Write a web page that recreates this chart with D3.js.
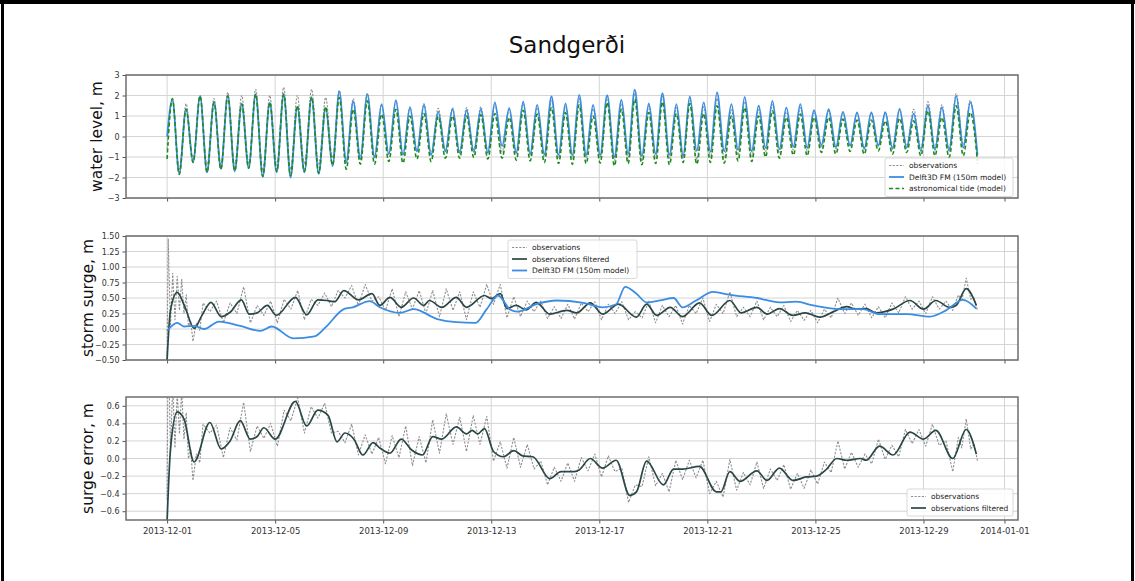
<!DOCTYPE html>
<html><head><meta charset="utf-8">
<script src="https://cdn.jsdelivr.net/npm/d3@7"></script>
<style>body{margin:0;background:#fff} svg{display:block;font-family:"DejaVu Sans",sans-serif}</style>
</head><body><svg id="c" width="1135" height="581"></svg>
<script>
// ---------- DATA (hours since 2013-12-01 00:00 UTC) ----------
const title = "Sandgerði";
const tickLabels = ["2013-12-01","2013-12-05","2013-12-09","2013-12-13","2013-12-17","2013-12-21","2013-12-25","2013-12-29","2014-01-01"];
const wlTicks = [-3,-2,-1,0,1,2,3];
const ssTicks = [-0.5,-0.25,0,0.25,0.5,0.75,1.0,1.25,1.5];
const seTicks = [-0.6,-0.4,-0.2,0,0.2,0.4,0.6];

// water level: high / low water turning points
const tideHours = [0,
 4.7,10.8,16.9,23.1,29.3,35.5,41.7,47.8,
 53.9,60.1,66.3,72.5,78.7,85.0,91.2,97.4,
 103.6,109.7,115.7,122.0,128.4,134.7,140.9,147.0,
 153.0,159.2,165.4,171.7,177.9,184.3,190.6,197.0,
 203.3,209.6,215.8,222.0,228.2,234.6,240.9,247.3,
 253.6,259.9,266.1,272.5,278.8,285.0,291.2,297.6,
 304.0,310.2,316.4,322.6,328.8,335.2,341.5,347.8,
 354.0,360.1,366.1,372.3,378.5,384.8,391.0,397.4,
 403.7,409.6,415.5,421.8,428.0,434.1,440.1,446.3,
 452.5,458.5,464.4,470.6,476.8,482.7,488.6,495.0,
 501.4,507.3,513.2,519.4,525.6,531.7,537.8,544.0,
 550.2,556.4,562.6,568.7,574.8,581.3,587.8,594.2,
 600.5,606.8,613.0,619.4,625.7,631.9,638.1,644.5,
 650.8,657.1,663.3,669.7,676.0,682.2,688.4,694.8,
 701.1,707.4,713.6,720];
const wlObs = [-0.6,
 1.8,-1.6,1.6,-1.1,2.0,-1.4,1.85,-1.35,
 2.15,-1.4,2.0,-1.3,2.3,-1.65,2.0,-1.4,
 2.4,-1.6,2.0,-1.35,2.3,-1.4,1.9,-1.05,
 2.25,-1.2,1.85,-0.95,2.1,-0.95,1.55,-0.85,
 1.75,-0.9,1.45,-0.7,1.6,-0.85,1.38,-0.65,
 1.4,-0.7,1.41,-0.65,1.45,-0.7,1.55,-0.75,
 1.3,-0.85,1.6,-0.9,1.4,-1.0,1.75,-1.05,
 1.45,-1.05,1.85,-1.05,1.35,-1.0,1.95,-1.15,
 1.6,-1.1,2.1,-1.2,1.5,-1.05,1.95,-1.1,
 1.4,-1.05,1.9,-1.1,1.45,-1.0,1.85,-1.05,
 1.3,-0.9,1.7,-0.95,1.3,-0.75,1.55,-0.8,
 1.2,-0.65,1.4,-0.7,1.2,-0.55,1.25,-0.6,
 1.15,-0.45,1.15,-0.55,1.15,-0.4,1.2,-0.5,
 1.35,-0.45,1.33,-0.55,1.7,-0.55,1.55,-0.6,
 2.1,-0.4,1.77,-1.35];
const wlModel = [0.0,
 1.8,-1.8,1.35,-1.25,1.97,-1.75,1.7,-1.58,
 1.98,-1.7,1.6,-1.55,2.05,-1.97,1.65,-1.75,
 2.05,-2.0,1.45,-1.75,1.9,-1.82,1.4,-1.45,
 2.2,-1.27,1.7,-1.1,2.07,-1.02,1.58,-0.86,
 1.77,-0.9,1.41,-0.73,1.54,-0.9,1.2,-0.73,
 1.33,-0.8,1.28,-0.75,1.33,-0.8,1.66,-0.46,
 1.38,-0.78,1.7,-0.85,1.54,-0.87,1.95,-0.9,
 1.61,-0.92,2.03,-0.9,1.54,-0.92,2.02,-1.0,
 1.79,-0.85,2.28,-0.95,1.61,-0.85,2.11,-0.9,
 1.58,-0.94,1.95,-0.7,1.66,-0.75,2.15,-0.72,
 1.58,-0.65,1.93,-0.72,1.5,-0.55,1.74,-0.62,
 1.41,-0.5,1.58,-0.55,1.28,-0.42,1.33,-0.52,
 1.2,-0.45,1.17,-0.6,1.17,-0.45,1.17,-0.6,
 1.33,-0.55,1.12,-0.7,1.5,-0.65,1.41,-0.7,
 1.98,-0.55,1.66,-0.9];
const wlAstro = [-1.1,
 1.85,-1.85,1.33,-1.27,1.98,-1.75,1.66,-1.6,
 1.98,-1.67,1.58,-1.55,2.07,-1.95,1.66,-1.7,
 2.07,-1.9,1.5,-1.7,1.93,-1.8,1.45,-1.4,
 1.9,-1.6,1.33,-1.35,1.74,-1.35,1.09,-1.22,
 1.33,-1.3,1.0,-1.1,1.12,-1.22,0.98,-1.06,
 1.0,-1.06,1.0,-1.02,1.06,-1.1,1.12,-1.06,
 0.93,-1.15,1.28,-1.19,1.09,-1.27,1.41,-1.32,
 1.17,-1.35,1.54,-1.32,1.0,-1.3,1.66,-1.43,
 1.33,-1.32,1.82,-1.38,1.17,-1.32,1.69,-1.38,
 1.12,-1.27,1.61,-1.35,1.12,-1.27,1.5,-1.3,
 1.0,-1.19,1.41,-1.22,1.0,-1.0,1.25,-1.06,
 0.93,-0.91,1.09,-0.94,0.93,-0.78,0.93,-0.86,
 0.85,-0.73,0.8,-0.86,0.8,-0.7,0.76,-0.86,
 0.89,-0.78,0.76,-0.94,1.25,-0.94,0.93,-1.02,
 1.5,-0.94,1.17,-1.19];

// storm surge & surge error: observed (raw) samples
const obsHours = [0,1,3,5,7,9,11,13,15,17,19,21,23,26,29,
 32,38,44,50,56,62,68,74,80,86,92,98,
 104,110,116,122,128,134,140,146,152,158,164,170,
 176,182,188,194,200,206,212,218,224,230,236,242,
 248,254,260,266,272,278,284,290,296,302,308,314,
 320,326,332,338,344,350,356,362,368,374,380,386,
 392,398,404,410,416,422,428,434,440,446,452,458,
 464,470,476,482,488,494,500,506,512,518,524,530,
 536,542,548,554,560,566,572,578,584,590,596,602,
 608,614,620,626,632,638,644,650,656,662,668,674,
 680,686,692,698,703,706,710,714,717,720];
const surgeObs = [-0.5,1.45,0.05,0.9,0.15,0.85,0.3,0.8,0.25,0.55,0.05,0.12,-0.2,0.1,-0.02,
 0.42,0.28,0.45,0.1,0.42,0.25,0.68,0.1,0.38,0.22,0.45,0.1,
 0.48,0.32,0.62,0.15,0.48,0.38,0.58,0.36,0.62,0.5,0.7,0.38,
 0.72,0.45,0.52,0.3,0.65,0.2,0.6,0.32,0.62,0.25,0.62,0.2,
 0.65,0.3,0.6,0.15,0.6,0.35,0.72,0.4,0.72,0.18,0.52,0.2,
 0.45,0.28,0.45,0.17,0.36,0.17,0.4,0.16,0.42,0.28,0.44,0.15,
 0.4,0.25,0.44,0.15,0.28,0.18,0.45,0.1,0.38,0.2,0.38,0.08,
 0.38,0.25,0.5,0.12,0.4,0.25,0.6,0.2,0.35,0.2,0.45,0.15,
 0.35,0.2,0.38,0.12,0.3,0.14,0.3,0.1,0.32,0.18,0.5,0.25,
 0.42,0.22,0.4,0.18,0.36,0.18,0.42,0.26,0.52,0.32,0.45,0.25,
 0.52,0.32,0.45,0.3,0.55,0.45,0.82,0.48,0.5,0.3];
const errorObs = [-0.47,1.48,0.05,0.85,0.12,0.75,0.28,0.78,0.22,0.52,0.0,0.1,-0.25,0.05,-0.05,
 0.39,0.29,0.38,0.01,0.35,0.21,0.64,0.08,0.37,0.23,0.4,0.14,
 0.55,0.43,0.69,0.29,0.59,0.46,0.63,0.29,0.31,0.18,0.39,0.04,
 0.27,0.05,0.24,-0.06,0.26,0.01,0.37,-0.08,0.25,-0.05,0.44,0.06,
 0.51,0.16,0.47,0.08,0.49,0.16,0.48,-0.03,0.19,-0.11,0.24,-0.1,
 0.16,-0.12,-0.03,-0.3,-0.1,-0.26,-0.05,-0.26,0.01,-0.14,0.05,-0.21,
 0.03,-0.15,-0.11,-0.5,-0.3,-0.32,0.02,-0.31,-0.17,-0.38,-0.02,-0.24,
 -0.02,-0.22,-0.02,-0.4,-0.26,-0.44,-0.01,-0.36,-0.16,-0.3,-0.04,-0.34,
 -0.12,-0.25,-0.07,-0.35,-0.17,-0.34,-0.13,-0.29,-0.04,-0.16,0.2,-0.12,
 0.07,-0.1,0.05,-0.06,0.22,-0.01,0.15,0.02,0.33,0.17,0.33,0.14,
 0.39,0.15,0.2,-0.15,0.24,0.12,0.45,0.11,0.17,-0.03];

// filtered observed surge (turning points)
const surgeFiltHours = [0,3,9,16,24,31,39,48,56,66,73,80,89,97,114,124,134,142,149,157,170,182,189,198,208,219,228,233,244,257,266,282,288,296,302,310,319,328,340,355,364,376,387,401,417,426,435,447,458,473,484,500,510,524,533,544,556,567,580,592,604,612,621,630,645,660,672,683,695,701,710,719];
const surgeFilt = [-0.5,0.3,0.59,0.35,0.01,0.22,0.43,0.2,0.27,0.47,0.24,0.26,0.38,0.22,0.51,0.23,0.47,0.46,0.44,0.62,0.47,0.57,0.38,0.51,0.35,0.5,0.38,0.46,0.35,0.51,0.35,0.54,0.49,0.57,0.33,0.38,0.31,0.43,0.24,0.3,0.26,0.42,0.24,0.4,0.19,0.4,0.22,0.35,0.2,0.42,0.22,0.46,0.26,0.35,0.24,0.33,0.22,0.26,0.19,0.28,0.36,0.32,0.33,0.26,0.32,0.46,0.32,0.46,0.35,0.38,0.65,0.38];
// Delft3D FM modelled surge
const surgeModelHours = [0,9,15,24,33,46,65,83,93,112,131,141,157,165,180,189,207,219,240,257,274,284,294,305,311,328,346,370,387,399,407,417,426,438,450,458,470,485,500,524,544,559,574,598,618,633,657,678,692,707,719];
const surgeModel = [-0.03,0.1,0.04,0.05,0.0,0.12,0.05,-0.03,0.04,-0.15,-0.12,0.03,0.32,0.35,0.45,0.35,0.26,0.32,0.16,0.11,0.1,0.32,0.54,0.31,0.28,0.4,0.46,0.42,0.35,0.4,0.68,0.57,0.43,0.46,0.5,0.35,0.46,0.6,0.55,0.5,0.43,0.44,0.38,0.32,0.32,0.24,0.24,0.2,0.3,0.47,0.33];
// filtered surge error
const errorFiltHours = [0,3,9,15,24,38,48,56,65,74,80,86,96,114,124,134,143,151,158,166,174,183,189,198,208,217,227,236,244,257,266,271,276,282,290,299,308,316,325,340,350,361,366,376,387,399,411,417,426,441,450,458,473,488,492,500,509,524,533,544,556,568,577,586,595,604,616,621,633,645,660,672,683,698,710,719];
const errorFilt = [-0.72,0.1,0.53,0.45,-0.04,0.41,0.11,0.2,0.43,0.22,0.25,0.35,0.22,0.65,0.37,0.55,0.49,0.19,0.29,0.22,0.04,0.18,0.12,0.06,0.22,0.1,0.04,0.25,0.22,0.36,0.28,0.32,0.28,0.34,0.08,0.02,0.09,0.03,0.02,-0.23,-0.15,-0.15,-0.13,0.0,-0.11,-0.02,-0.42,-0.38,-0.03,-0.3,-0.12,-0.12,-0.09,-0.38,-0.38,-0.15,-0.26,-0.14,-0.25,-0.11,-0.25,-0.21,-0.2,-0.12,0.0,-0.02,0.0,-0.02,0.14,0.04,0.3,0.22,0.32,0.0,0.33,0.05];

// ---------- DRAW ----------
const svg = d3.select("#c");
const W = 1135, H = 581;
svg.append("rect").attr("width", W).attr("height", H).attr("fill", "#fff");

const base = Date.UTC(2013, 11, 1);
const toDate = h => new Date(base + h * 3600e3);
const parse = d3.utcParse("%Y-%m-%d");
const tickDates = tickLabels.map(parse);
const x = d3.scaleUtc().domain([toDate(-36.5), toDate(756)]).range([126, 1018]);

const C = {obs: "#8f8f8f", model: "#3a8de3", astro: "#1f8a1f", filt: "#2a4646", grid: "#d4d4d4", frame: "#6e6e6e", text: "#333"};

svg.append("text").attr("x", 567).attr("y", 53).attr("text-anchor", "middle")
  .attr("font-size", 23).attr("fill", "#111").text(title);

const panels = [
  {id: "p1", top: 75, bottom: 198, domain: [-3, 3], ticks: wlTicks, fmt: d3.format("d"), label: "water level, m", lx: 97, xlabels: false},
  {id: "p2", top: 236, bottom: 360, domain: [-0.5, 1.5], ticks: ssTicks, fmt: d3.format(".2f"), label: "storm surge, m", lx: 88, xlabels: false},
  {id: "p3", top: 397, bottom: 520, domain: [-0.7, 0.7], ticks: seTicks, fmt: d3.format(".1f"), label: "surge error, m", lx: 88, xlabels: true}
];
const [X0, X1] = x.range();

panels.forEach(p => {
  p.y = d3.scaleLinear().domain(p.domain).range([p.bottom, p.top]);
  const g = svg.append("g");
  svg.append("clipPath").attr("id", "clip-" + p.id).append("rect")
    .attr("x", X0).attr("y", p.top).attr("width", X1 - X0).attr("height", p.bottom - p.top);
  g.selectAll(".gy").data(p.ticks).join("line")
    .attr("x1", X0).attr("x2", X1).attr("y1", d => p.y(d)).attr("y2", d => p.y(d))
    .attr("stroke", C.grid).attr("stroke-width", 1);
  g.selectAll(".gx").data(tickDates).join("line")
    .attr("x1", d => x(d)).attr("x2", d => x(d)).attr("y1", p.top).attr("y2", p.bottom)
    .attr("stroke", C.grid).attr("stroke-width", 1);
  const ay = g.append("g").attr("transform", `translate(${X0},0)`)
    .call(d3.axisLeft(p.y).tickValues(p.ticks).tickFormat(p.fmt).tickSize(3.5).tickPadding(3));
  const ax = g.append("g").attr("transform", `translate(0,${p.bottom})`)
    .call(d3.axisBottom(x).tickValues(tickDates).tickFormat(p.xlabels ? d3.utcFormat("%Y-%m-%d") : () => "").tickSize(3.5).tickPadding(4));
  [ay, ax].forEach(a => {
    a.select(".domain").remove();
    a.selectAll("line").attr("stroke", "#555");
    a.selectAll("text").attr("fill", C.text).attr("font-size", 8).attr("font-family", "DejaVu Sans");
  });
  ax.selectAll("text").attr("font-size", 8.5);
  p.plot = svg.append("g").attr("clip-path", `url(#clip-${p.id})`);
  svg.append("text").attr("transform", `translate(${p.lx},${(p.top + p.bottom) / 2}) rotate(-90)`)
    .attr("text-anchor", "middle").attr("dominant-baseline", "central")
    .attr("font-size", 15.5).attr("fill", "#111").text(p.label);
});

function drawLine(p, hours, vals, style, curve) {
  const pts = hours.map((h, i) => [toDate(h), vals[i]]);
  const line = d3.line().x(d => x(d[0])).y(d => p.y(d[1])).curve(curve || d3.curveLinear);
  p.plot.append("path").datum(pts).attr("d", line).attr("fill", "none")
    .attr("stroke", style.c).attr("stroke-width", style.w)
    .attr("stroke-dasharray", style.dash || null).attr("stroke-linejoin", "round");
}
const S = {
  obs: {c: C.obs, w: 1.1, dash: "2.2,1.4"},
  model: {c: C.model, w: 1.8},
  astro: {c: C.astro, w: 1.6, dash: "4,2.5"},
  filt: {c: C.filt, w: 1.7}
};
const [P1, P2, P3] = panels;
drawLine(P1, tideHours, wlObs, S.obs, d3.curveMonotoneX);
drawLine(P1, tideHours, wlModel, S.model, d3.curveMonotoneX);
drawLine(P1, tideHours, wlAstro, S.astro, d3.curveMonotoneX);

drawLine(P2, obsHours, surgeObs, S.obs);
drawLine(P2, surgeFiltHours, surgeFilt, S.filt, d3.curveMonotoneX);
drawLine(P2, surgeModelHours, surgeModel, S.model, d3.curveMonotoneX);

drawLine(P3, obsHours, errorObs, S.obs);
drawLine(P3, errorFiltHours, errorFilt, S.filt, d3.curveMonotoneX);

panels.forEach(p => {
  svg.append("rect").attr("x", X0).attr("y", p.top).attr("width", X1 - X0).attr("height", p.bottom - p.top)
    .attr("fill", "none").attr("stroke", C.frame).attr("stroke-width", 1.5);
});

function legend(x0, y0, w, items) {
  const g = svg.append("g");
  const h = items.length * 11.5 + 4;
  g.append("rect").attr("x", x0).attr("y", y0).attr("width", w).attr("height", h).attr("rx", 2)
    .attr("fill", "#fff").attr("fill-opacity", 0.85).attr("stroke", "#cfcfcf").attr("stroke-width", 0.8);
  items.forEach((it, i) => {
    const yy = y0 + 7.5 + i * 11.5;
    g.append("line").attr("x1", x0 + 4).attr("x2", x0 + 19).attr("y1", yy).attr("y2", yy)
      .attr("stroke", it.s.c).attr("stroke-width", it.s.w).attr("stroke-dasharray", it.s.dash || null);
    g.append("text").attr("x", x0 + 24).attr("y", yy).attr("dominant-baseline", "central")
      .attr("font-size", 7.5).attr("fill", "#222").text(it.t);
  });
}
legend(885, 158, 128, [{t: "observations", s: S.obs}, {t: "Delft3D FM (150m model)", s: S.model}, {t: "astronomical tide (model)", s: S.astro}]);
legend(508, 240, 129, [{t: "observations", s: S.obs}, {t: "observations filtered", s: S.filt}, {t: "Delft3D FM (150m model)", s: S.model}]);
legend(907, 489, 106, [{t: "observations", s: S.obs}, {t: "observations filtered", s: S.filt}]);

svg.append("rect").attr("x", 0).attr("y", 0).attr("width", W).attr("height", 4).attr("fill", "#000");
svg.append("rect").attr("x", 1).attr("y", 0).attr("width", 3).attr("height", H).attr("fill", "#000");
svg.append("rect").attr("x", 1131).attr("y", 0).attr("width", 3).attr("height", H).attr("fill", "#000");
</script></body></html>
